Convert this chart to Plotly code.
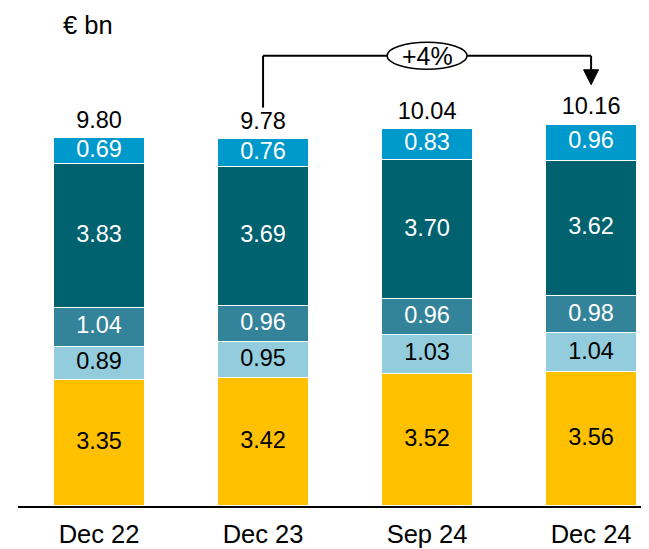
import plotly.graph_objects as go
import numpy as np

categories = ["Dec 22", "Dec 23", "Sep 24", "Dec 24"]
seg_yellow = [3.35, 3.42, 3.52, 3.56]
seg_light = [0.89, 0.95, 1.03, 1.04]
seg_mid = [1.04, 0.96, 0.96, 0.98]
seg_dark = [3.83, 3.69, 3.70, 3.62]
seg_top = [0.69, 0.76, 0.83, 0.96]
totals = [9.80, 9.78, 10.04, 10.16]
growth_label = "+4%"
unit_label = "€ bn"

series = [
    (seg_yellow, "#FFC000", "black"),
    (seg_light, "#93CDDD", "black"),
    (seg_mid, "#33839A", "white"),
    (seg_dark, "#00616F", "white"),
    (seg_top, "#0099CC", "white"),
]

FONT = "Liberation Sans, Arial, sans-serif"
VS = 23.5
LS = 25.5
ppu = 37.7          # pixels per € bn
upx = 164           # pixels per category
xs = list(range(len(categories)))
fig = go.Figure()
base = np.zeros(len(categories))
for vals, col, tcol in series:
    fig.add_trace(go.Bar(x=xs, y=vals, marker=dict(color=col, line=dict(color="white", width=1)),
                         width=0.555, showlegend=False, hoverinfo="skip"))
    mids = base + np.array(vals) / 2
    fig.add_trace(go.Scatter(x=xs, y=mids, mode="text", text=[f"{v:.2f}" for v in vals],
                             textfont=dict(color=tcol, size=VS, family=FONT), showlegend=False,
                             hoverinfo="skip"))
    base = base + np.array(vals)

fig.add_trace(go.Scatter(x=xs, y=np.array(totals) + 16 / ppu, mode="text",
                         text=[f"{v:.2f}" for v in totals],
                         textfont=dict(color="black", size=VS, family=FONT), showlegend=False,
                         hoverinfo="skip"))

ymax = 498 / ppu
fig.update_layout(barmode="stack", width=641, height=541,
                  margin=dict(l=10, r=1, t=2, b=41),
                  plot_bgcolor="white", paper_bgcolor="white",
                  font=dict(family=FONT, size=LS, color="black"), bargap=0)
fig.update_xaxes(range=[-0.494, 3.347], tickvals=xs, ticktext=categories, showline=True,
                 linecolor="black", linewidth=2, ticks="", showgrid=False, zeroline=False,
                 ticklabelstandoff=4,
                 tickfont=dict(size=LS, family=FONT, color="black"))
fig.update_yaxes(range=[0, ymax], visible=False, showgrid=False)


def sy(s):
    """screen row -> data value"""
    return (508 - s) / ppu


# growth bracket
y_start = sy(108)
y_h = sy(56)
y_tip = sy(85)
lw = 2
fig.add_shape(type="line", x0=1, x1=1, y0=y_start, y1=y_h, line=dict(color="black", width=lw))
fig.add_shape(type="line", x0=1, x1=3, y0=y_h, y1=y_h, line=dict(color="black", width=lw))
fig.add_shape(type="line", x0=3, x1=3, y0=y_h, y1=y_tip + 12 / ppu, line=dict(color="black", width=lw))
tw = 7.5 / upx
fig.add_shape(type="path",
              path=f"M {3 - tw} {y_tip + 15 / ppu} L {3 + tw} {y_tip + 15 / ppu} L 3 {y_tip} Z",
              fillcolor="black", line=dict(color="black", width=1))
ew = 40 / upx
eh = 13.5 / ppu
fig.add_shape(type="circle", x0=2 - ew, x1=2 + ew, y0=y_h - eh, y1=y_h + eh,
              fillcolor="white", line=dict(color="black", width=1.5))
fig.add_annotation(x=2, y=y_h, text=growth_label, showarrow=False,
                   font=dict(size=25, family=FONT, color="black"))
fig.add_annotation(xref="paper", yref="paper", x=(54 - 10) / 630, y=1,
                   xanchor="left", yanchor="top", borderpad=0, text=unit_label, showarrow=False,
                   font=dict(size=LS, family=FONT, color="black"))

fig.write_html("out.html")
